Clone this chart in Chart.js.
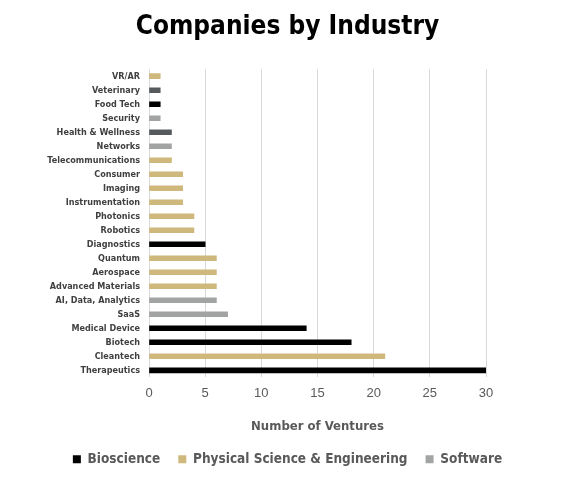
<!DOCTYPE html>
<html>
<head>
<meta charset="utf-8">
<script src="https://cdn.jsdelivr.net/npm/chart.js@4"></script>
<style>
  html, body { margin: 0; padding: 0; background: #fff; }
  #wrap { width: 575px; height: 481px; }
</style>
</head>
<body>
<div id="wrap"><canvas id="chart"></canvas></div>
<script>
// industries, top to bottom
const industries = [
    'VR/AR', 'Veterinary', 'Food Tech', 'Security', 'Health & Wellness', 'Networks',
    'Telecommunications', 'Consumer', 'Imaging', 'Instrumentation', 'Photonics', 'Robotics',
    'Diagnostics', 'Quantum', 'Aerospace', 'Advanced Materials', 'AI, Data, Analytics', 'SaaS',
    'Medical Device', 'Biotech', 'Cleantech', 'Therapeutics'
];

// number of ventures per group (null = not in that group)
const bioscience = [null, 1, 1, null, 2, null, null, null, null, null, null, null, 5, null, null, null, null, null, 14, 18, null, 30];
const physical   = [1, null, null, null, null, null, 2, 3, 3, 3, 4, 4, null, 6, 6, 6, null, null, null, null, 21, null];
const software   = [null, null, null, 1, null, 2, null, null, null, null, null, null, null, null, null, null, 6, 7, null, null, null, null];

const xTicks = [0, 5, 10, 15, 20, 25, 30];

const colors = {
    bio: '#000000',
    bioAlt: '#565a5c',
    phys: '#cfb87c',
    soft: '#a2a4a3',
    text: '#595959',
    label: '#404040',
    grid: '#d9d9d9'
};

const narrow = "'Liberation Sans Narrow', 'DejaVu Sans Condensed', sans-serif";

// Veterinary and Health & Wellness are drawn in dark gray
const bioColors = industries.map(n =>
    (n === 'Veterinary' || n === 'Health & Wellness') ? colors.bioAlt : colors.bio);

const ctx = document.getElementById('chart').getContext('2d');

new Chart(ctx, {
    type: 'bar',
    data: {
        labels: industries,
        datasets: [
            { label: 'Bioscience', data: bioscience, backgroundColor: bioColors, barThickness: 5 },
            { label: 'Physical Science & Engineering', data: physical, backgroundColor: colors.phys, barThickness: 5 },
            { label: 'Software', data: software, backgroundColor: colors.soft, barThickness: 5 }
        ]
    },
    options: {
        indexAxis: 'y',
        responsive: true,
        maintainAspectRatio: false,
        animation: false,
        layout: { padding: { left: 0, right: 0, top: 12, bottom: 5 } },
        scales: {
            x: {
                stacked: true,
                min: 0,
                max: 30,
                afterBuildTicks: scale => { scale.ticks = xTicks.map(v => ({ value: v })); },
                grid: { color: colors.grid, drawTicks: false },
                border: { display: false },
                ticks: { color: colors.text, padding: 8, font: { family: 'Liberation Sans, sans-serif', size: 13 } },
                title: {
                    display: true,
                    text: 'Number of Ventures',
                    color: colors.text,
                    padding: { top: 10, bottom: 0 },
                    font: { family: narrow, size: 13, weight: 'bold' }
                }
            },
            y: {
                stacked: true,
                grid: { display: false, drawTicks: false },
                border: { display: false },
                afterFit: scale => { scale.width = 149; },
                ticks: {
                    color: colors.label,
                    padding: 9,
                    autoSkip: false,
                    font: { family: narrow, size: 9, weight: 'bold' }
                }
            },
            // empty right-hand margin so title and legend centre on the full width
            pad: {
                type: 'category',
                position: 'right',
                grid: { display: false, drawTicks: false },
                border: { display: false },
                ticks: { display: false },
                afterFit: scale => { scale.width = 89; }
            }
        },
        plugins: {
            title: {
                display: true,
                text: 'Companies by Industry',
                color: '#000',
                padding: { top: 0, bottom: 26 },
                font: { family: narrow, size: 26, weight: 'bold' }
            },
            legend: {
                position: 'bottom',
                labels: {
                    color: colors.text,
                    boxWidth: 8,
                    boxHeight: 8,
                    padding: 18,
                    font: { family: narrow, size: 13.5, weight: 'bold' }
                }
            },
            tooltip: { enabled: false }
        }
    }
});
</script>
</body>
</html>
